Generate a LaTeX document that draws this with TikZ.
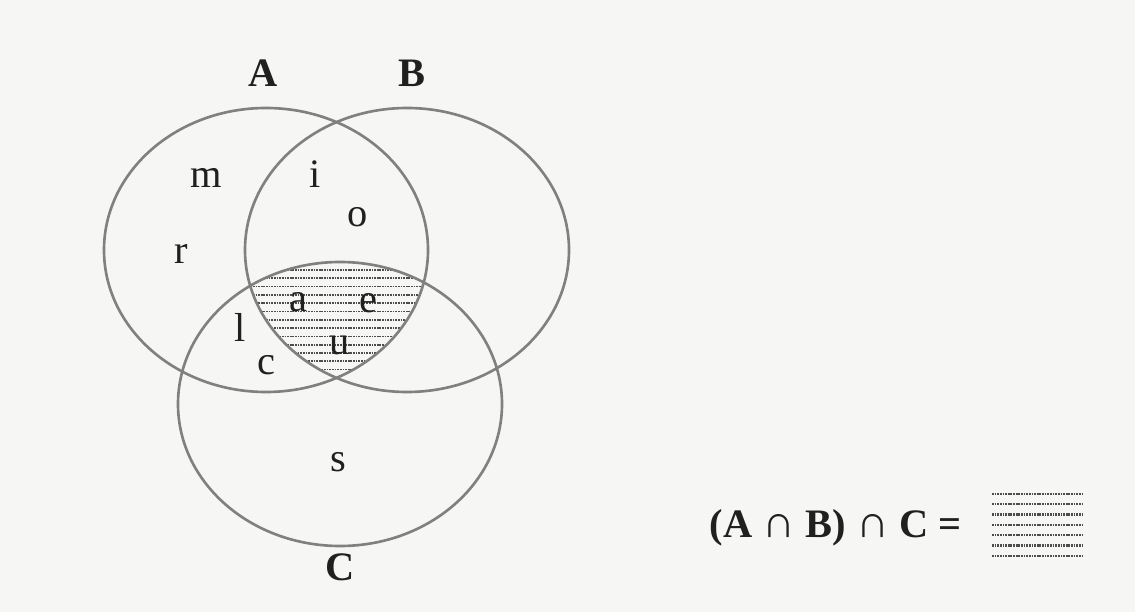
\documentclass[tikz,border=0pt]{standalone}
\usepackage{fontspec}
\setmainfont{Liberation Serif}
\usepackage{tikz}
\usetikzlibrary{shapes.geometric}

\definecolor{paper}{RGB}{246,246,245}
\definecolor{ring}{RGB}{128,128,128}
\definecolor{ink}{RGB}{32,32,32}

\newcommand{\capsign}{{\fontsize{26}{26}\selectfont ∩}}

\begin{document}
\begin{tikzpicture}[
    font=\fontsize{23}{27}\selectfont,
    set/.style={ellipse, draw=ring, line width=1.5pt, minimum width=6.48cm, minimum height=5.68cm, inner sep=0pt},
    elem/.style={anchor=base, text=ink, inner sep=0pt},
    setname/.style={elem, font=\fontsize{23}{27}\selectfont\bfseries},
    hatch/.style={draw=ink!80, line width=1pt, dash pattern=on 1pt off 0.5pt},
    keyhatch/.style={hatch, line width=1.3pt}
]
    % --- PAPER ---
    \fill[paper] (0,0) rectangle (22.7,12.24);
    \useasboundingbox (0,0) rectangle (22.7,12.24);

    % --- CENTRES OF THE SETS ---
    \coordinate (cA) at (5.32,7.24);
    \coordinate (cB) at (8.14,7.24);
    \coordinate (cC) at (6.80,4.16);

    % hatching of (A n B) n C
    \begin{scope}
        \clip (cA) ellipse [x radius=3.24, y radius=2.84];
        \clip (cB) ellipse [x radius=3.24, y radius=2.84];
        \clip (cC) ellipse [x radius=3.24, y radius=2.84];
        \foreach \k in {0,...,13}
            \draw[hatch] (2,{6.84-\k*0.166}) -- (11,{6.84-\k*0.166});
    \end{scope}

    % --- SETS ---
    \node[set] (setA) at (cA) {};
    \node[set] (setB) at (cB) {};
    \node[set] (setC) at (cC) {};

    \node[setname] (A) at (5.26,10.50) {A};
    \node[setname] (B) at (8.24,10.50) {B};
    \node[setname] (C) at (6.80,0.64) {C};

    % --- ELEMENTS ---
    \node[elem] (m) at (4.12,8.48) {m};
    \node[elem] (i) at (6.30,8.48) {i};
    \node[elem] (o) at (7.16,7.70) {o};
    \node[elem] (r) at (3.62,6.96) {r};
    \node[elem] (a) at (5.96,6.00) {a};
    \node[elem] (e) at (7.36,5.98) {e};
    \node[elem] (l) at (4.80,5.40) {l};
    \node[elem] (u) at (6.80,5.14) {u};
    \node[elem] (c) at (5.32,4.74) {c};
    \node[elem] (s) at (6.76,2.82) {s};

    % --- KEY ---
    \node[elem, anchor=base east] (formula) at (19.24,1.50)
        {\textbf{(A} \capsign{} \textbf{B)} \capsign{} \textbf{C =}};
    \foreach \k in {0,...,6}
        \draw[keyhatch] (19.84,{2.36-\k*0.206}) -- (21.64,{2.36-\k*0.206});

\end{tikzpicture}
\end{document}
